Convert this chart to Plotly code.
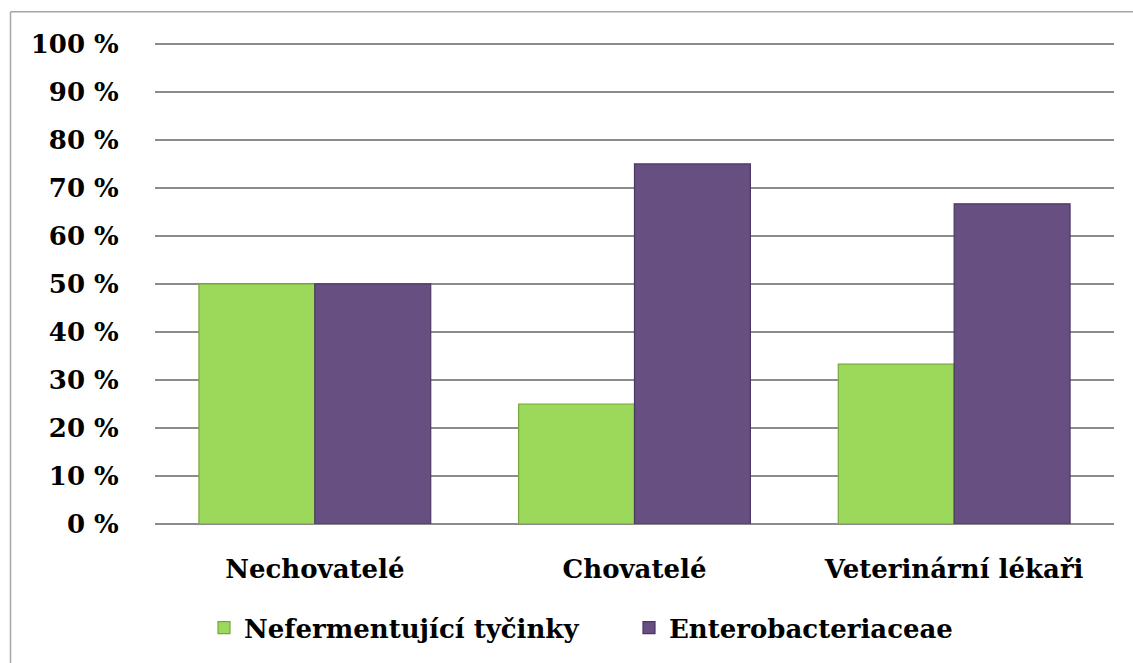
import plotly.graph_objects as go

categories = ["Nechovatelé", "Chovatelé", "Veterinární lékaři"]
nefermentujici = [50, 25, 33.3]
enterobacteriaceae = [50, 75, 66.7]
tick_values = [0, 10, 20, 30, 40, 50, 60, 70, 80, 90, 100]
tick_labels = [f"{v} %" for v in tick_values]

FONT = "DejaVu Serif"
Y_TOP = 100.4

fig = go.Figure()
fig.add_trace(go.Bar(
    name="Nefermentující tyčinky", x=categories, y=nefermentujici,
    marker=dict(color="#9cd95a", line=dict(color="#74a83c", width=1.2)),
))
fig.add_trace(go.Bar(
    name="Enterobacteriaceae", x=categories, y=enterobacteriaceae,
    marker=dict(color="#674f82", line=dict(color="#4a3862", width=1.2)),
))

W, H = 1133, 663
L, R, B = 155, 19, 135.5
# keep the 100 % line at about y=43.5 px while leaving a sliver above it
ph = (H - B - 43.5) * Y_TOP / 100
T = H - B - ph
pw = W - L - R

def px(x):
    return (x - L) / pw

def py(y):
    return (H - B - y) / ph

# frame lines on the left and top edges
fig.add_shape(type="line", xref="paper", yref="paper", x0=px(10.5), x1=px(10.5),
              y0=py(11), y1=py(H + 5), line=dict(color="#a6a6a6", width=1.5))
fig.add_shape(type="line", xref="paper", yref="paper", x0=px(10.5), x1=px(W + 5),
              y0=py(11), y1=py(11), line=dict(color="#a6a6a6", width=1.5))

bold = dict(family=FONT, size=26, color="black", weight="bold")

fig.update_layout(
    width=W, height=H,
    margin=dict(l=L, r=R, t=T, b=B),
    paper_bgcolor="white", plot_bgcolor="white",
    barmode="group", bargap=0.275, bargroupgap=0,
    font=bold,
    showlegend=True,
    legend=dict(orientation="h", x=px(204), y=py(632), xanchor="left", yanchor="middle",
                font=bold, itemwidth=30, entrywidth=380, entrywidthmode="pixels",
                traceorder="normal"),
    xaxis=dict(showgrid=False, showline=False, ticks="outside", ticklen=0,
               tickfont=bold, ticklabelstandoff=22),
    yaxis=dict(range=[0, Y_TOP], tickvals=tick_values, ticktext=tick_labels,
               showgrid=True, gridcolor="#8c8c8c", gridwidth=1.5,
               zeroline=True, zerolinecolor="#8c8c8c", zerolinewidth=1.5,
               showline=False, ticks="outside", ticklen=0,
               ticklabelstandoff=30, tickfont=bold),
)

fig.write_html("out.html")
